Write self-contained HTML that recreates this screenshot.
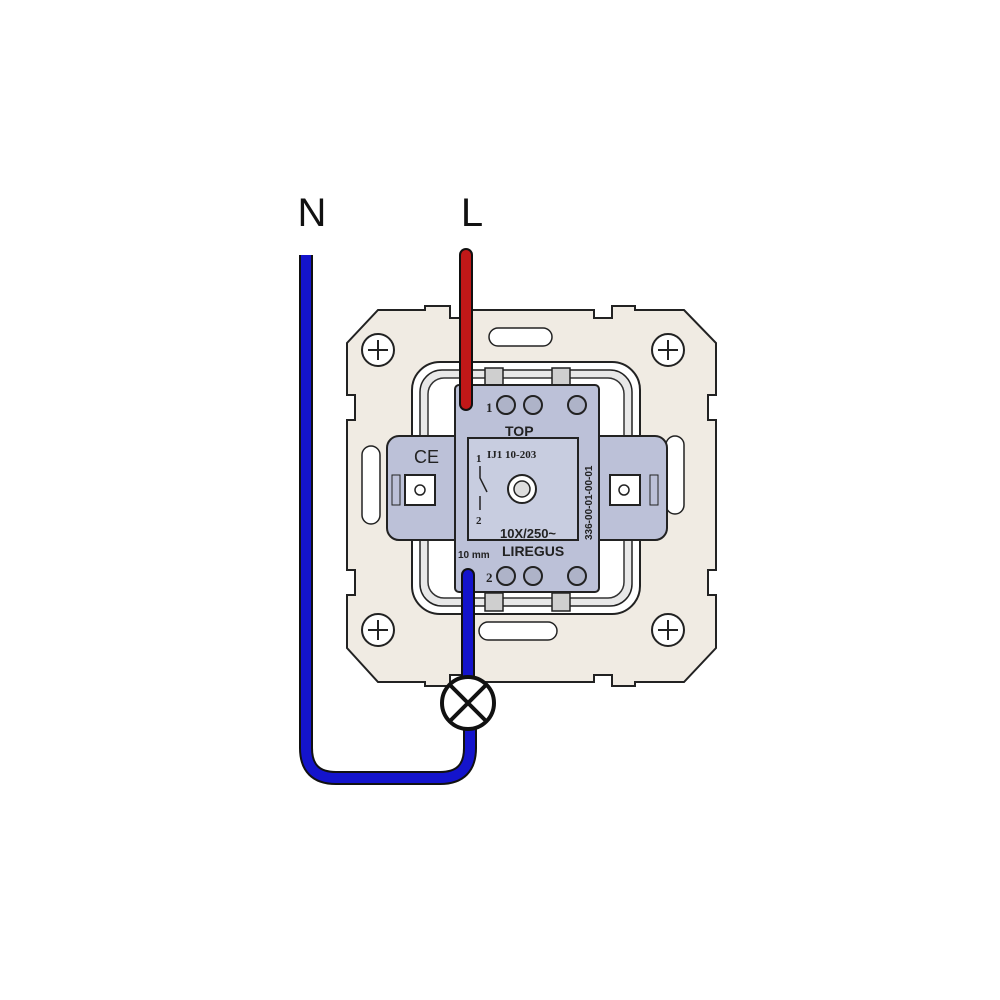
<!DOCTYPE html>
<html><head><meta charset="utf-8"><style>
html,body{margin:0;padding:0;background:#fff;}
svg{display:block}
</style></head><body>
<svg width="1000" height="1000" viewBox="0 0 1000 1000" xmlns="http://www.w3.org/2000/svg" font-family="Liberation Sans, sans-serif">
<rect width="1000" height="1000" fill="#fff"/>
<text x="312" y="226" font-size="40" text-anchor="middle" fill="#111">N</text>
<text x="472" y="226" font-size="40" text-anchor="middle" fill="#111">L</text>

<!-- plate -->
<polygon fill="#f0ebe3" stroke="#222" stroke-width="2" points="378,310 425,310 425,306 450,306 450,318 470,318 470,310 594,310 594,318 612,318 612,306 635,306 635,310 684,310 716,343 716,395 708,395 708,420 716,420 716,570 708,570 708,595 716,595 716,648 684,682 635,682 635,686 612,686 612,675 594,675 594,682 470,682 470,675 450,675 450,686 425,686 425,682 378,682 347,648 347,595 355,595 355,570 347,570 347,420 355,420 355,395 347,395 347,343"/>
<!-- slots -->
<path d="M498,328 h45 a9,9 0 0 1 0,18 h-45 a9,9 0 0 1 0,-18z" fill="#fff" stroke="#222" stroke-width="1.5"/>
<path d="M488,622 h60 a9,9 0 0 1 0,18 h-60 a9,9 0 0 1 0,-18z" fill="#fff" stroke="#222" stroke-width="1.5"/>
<path d="M362,455 a9,9 0 0 1 18,0 v60 a9,9 0 0 1 -18,0z" fill="#fff" stroke="#222" stroke-width="1.5"/>
<path d="M666,445 a9,9 0 0 1 18,0 v60 a9,9 0 0 1 -18,0z" fill="#fff" stroke="#222" stroke-width="1.5"/>
<!-- screws -->
<g fill="#fff" stroke="#222" stroke-width="2">
<circle cx="378" cy="350" r="16"/><circle cx="668" cy="350" r="16"/>
<circle cx="378" cy="630" r="16"/><circle cx="668" cy="630" r="16"/>
</g>
<g stroke="#222" stroke-width="2">
<path d="M368,350h20M378,340v20M658,350h20M668,340v20M368,630h20M378,620v20M658,630h20M668,620v20"/>
</g>
<!-- frame -->
<rect x="412" y="362" width="228" height="252" rx="28" fill="#fff" stroke="#222" stroke-width="2"/>
<rect x="420" y="370" width="212" height="236" rx="22" fill="#e8e8e8" stroke="#222" stroke-width="1.5"/>
<rect x="428" y="378" width="196" height="220" rx="16" fill="#fff" stroke="#333" stroke-width="1.5"/>
<g fill="#cfcfcf" stroke="#222" stroke-width="1.5">
<rect x="485" y="368" width="18" height="18"/><rect x="552" y="368" width="18" height="18"/>
<rect x="485" y="593" width="18" height="18"/><rect x="552" y="593" width="18" height="18"/>
</g>
<!-- wings -->
<rect x="387" y="436" width="280" height="104" rx="12" fill="#bcc1d8" stroke="#222" stroke-width="2"/>
<rect x="405" y="475" width="30" height="30" fill="#fff" stroke="#222" stroke-width="2"/>
<circle cx="420" cy="490" r="5" fill="none" stroke="#222" stroke-width="1.5"/>
<rect x="610" y="475" width="30" height="30" fill="#fff" stroke="#222" stroke-width="2"/>
<circle cx="624" cy="490" r="5" fill="none" stroke="#222" stroke-width="1.5"/>
<rect x="392" y="475" width="8" height="30" fill="none" stroke="#222"/>
<rect x="650" y="475" width="8" height="30" fill="none" stroke="#222"/>
<text x="414" y="463" font-size="18" fill="#222">CE</text>
<!-- body -->
<rect x="455" y="385" width="144" height="207" rx="4" fill="#bcc1d8" stroke="#222" stroke-width="2"/>
<rect x="468" y="438" width="110" height="102" fill="#c8cde0" stroke="#222" stroke-width="2"/>
<g fill="#aeb3c8" stroke="#222" stroke-width="2">
<circle cx="506" cy="405" r="9"/><circle cx="533" cy="405" r="9"/><circle cx="577" cy="405" r="9"/>
<circle cx="506" cy="576" r="9"/><circle cx="533" cy="576" r="9"/><circle cx="577" cy="576" r="9"/>
</g>
<circle cx="522" cy="489" r="14" fill="#fff" stroke="#222" stroke-width="2"/>
<circle cx="522" cy="489" r="8" fill="#ddd" stroke="#222" stroke-width="1.5"/>
<g font-family="Liberation Serif, serif" font-weight="bold" fill="#222">
<text x="487" y="458" font-size="11">IJ1 10-203</text>
<text x="476" y="462" font-size="11">1</text>
<text x="476" y="524" font-size="11">2</text>
<text x="486" y="412" font-size="13">1</text>
<text x="486" y="582" font-size="13">2</text>
</g>
<path d="M480,466 v12 l7,14 M480,496 v14" stroke="#222" stroke-width="1.5" fill="none"/>
<g font-weight="bold" fill="#222">
<text x="505" y="436" font-size="14">TOP</text>
<text x="500" y="538" font-size="13">10X/250~</text>
<text x="502" y="556" font-size="14">LIREGUS</text>
<text x="458" y="558" font-size="10">10 mm</text>
<text x="0" y="0" font-size="10" transform="translate(592,540) rotate(-90)">336-00-01-00-01</text>
</g>
<!-- wires -->
<path d="M306,255 V748 Q306,778 336,778 H440 Q470,778 470,748 V728" fill="none" stroke="#111" stroke-width="14"/>
<path d="M306,255 V748 Q306,778 336,778 H440 Q470,778 470,748 V728" fill="none" stroke="#1414cc" stroke-width="10"/>
<path d="M468,678 V575" fill="none" stroke="#111" stroke-width="14" stroke-linecap="round"/>
<path d="M468,678 V575" fill="none" stroke="#1414cc" stroke-width="10" stroke-linecap="round"/>
<path d="M466,255 V404" fill="none" stroke="#111" stroke-width="14" stroke-linecap="round"/>
<path d="M466,255 V404" fill="none" stroke="#c01818" stroke-width="10" stroke-linecap="round"/>
<!-- lamp -->
<circle cx="468" cy="703" r="26" fill="#fff" stroke="#111" stroke-width="4"/>
<path d="M450,685 L486,721 M486,685 L450,721" stroke="#111" stroke-width="4"/>
</svg>
</body></html>
